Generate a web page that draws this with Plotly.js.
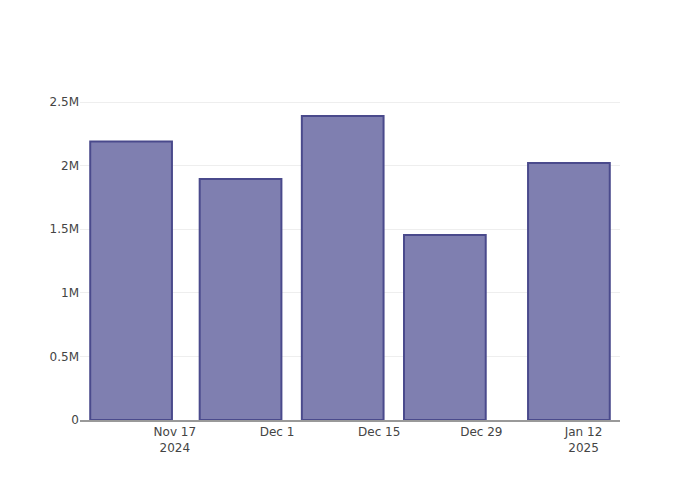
<!DOCTYPE html>
<html>
<head>
<meta charset="utf-8">
<script src="https://cdn.plot.ly/plotly-3.0.1.min.js"></script>
<style>html,body{margin:0;padding:0;background:#fff;}</style>
</head>
<body>
<div id="chart" style="width:700px;height:500px;"></div>
<script>
const dates = ["2024-11-11", "2024-11-26", "2024-12-10", "2024-12-24", "2025-01-10"];
const values = [2190000, 1895000, 2390000, 1455000, 2020000];

Plotly.newPlot("chart", [{
  type: "bar",
  x: dates,
  y: values,
  marker: {color: "#7f7fb0", line: {color: "#4a4a8c", width: 2}}
}], {
  width: 700,
  height: 500,
  paper_bgcolor: "#fff",
  plot_bgcolor: "#fff",
  font: {family: "DejaVu Sans, sans-serif", size: 12, color: "#444"},
  xaxis: {type: "date", showline: true, linecolor: "#999", linewidth: 1.5, showgrid: false, tickfont: {size: 12}},
  yaxis: {gridcolor: "#eee", zeroline: false, tickfont: {size: 12}},
  showlegend: false
}, {displayModeBar: false});
</script>
</body>
</html>
